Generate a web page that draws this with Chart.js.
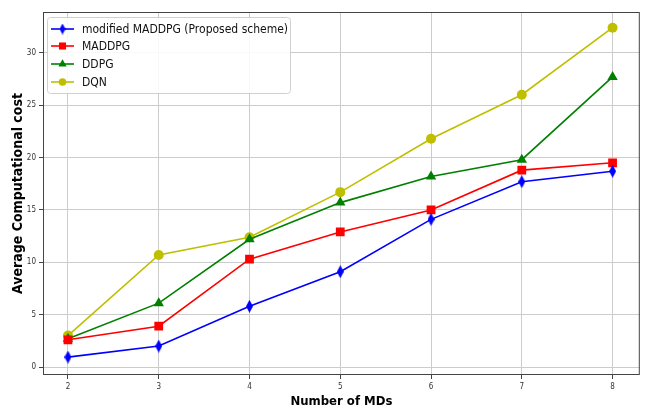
<!DOCTYPE html>
<html><head><meta charset="utf-8">
<script src="https://cdn.jsdelivr.net/npm/chart.js@4"></script>
<style>html,body{margin:0;padding:0;background:#fff}#wrap{width:646px;height:409px}</style>
</head><body><div id="wrap"><canvas id="c" width="646" height="409"></canvas></div>
<script>
const numMDs = [2, 3, 4, 5, 6, 7, 8];
const modifiedMADDPG = [0.95, 2.0, 5.8, 9.1, 14.1, 17.7, 18.7];
const MADDPG = [2.6, 3.9, 10.3, 12.9, 15.0, 18.8, 19.5];
const DDPG = [2.7, 6.1, 12.2, 15.7, 18.2, 19.8, 27.7];
const DQN = [3.0, 10.7, 12.4, 16.7, 21.8, 26.0, 32.4];
const seriesLabels = ['modified MADDPG (Proposed scheme)', 'MADDPG', 'DDPG', 'DQN'];
const yTicks = [0, 5, 10, 15, 20, 25, 30];

const FAM = '"DejaVu Sans Condensed", "DejaVu Sans"';

function thinDiamond(w, h, color) {
  const c = document.createElement('canvas');
  c.width = w; c.height = h;
  const g = c.getContext('2d');
  g.fillStyle = color;
  g.beginPath();
  g.moveTo(w / 2, 0); g.lineTo(w, h / 2); g.lineTo(w / 2, h); g.lineTo(0, h / 2); g.closePath();
  g.fill();
  return c;
}
const diamond = thinDiamond(7, 13, '#0000ff');
const diamondSmall = thinDiamond(6, 11, '#0000ff');

const toPts = arr => arr.map((v, i) => ({x: numMDs[i], y: v}));
const styles = [
  {color: '#0000ff', pointStyle: diamond, legendStyle: diamondSmall, radius: 6, legendRadius: 5},
  {color: '#ff0000', pointStyle: 'rect', legendStyle: 'rect', radius: 6.2, legendRadius: 5},
  {color: '#008000', pointStyle: 'triangle', legendStyle: 'triangle', radius: 6, legendRadius: 4.8},
  {color: '#bfbf00', pointStyle: 'circle', legendStyle: 'circle', radius: 5, legendRadius: 3.8},
];
const values = [modifiedMADDPG, MADDPG, DDPG, DQN];

const datasets = values.map((v, i) => ({
  label: seriesLabels[i],
  data: toPts(v),
  borderColor: styles[i].color,
  backgroundColor: styles[i].color,
  pointBackgroundColor: styles[i].color,
  pointBorderColor: styles[i].color,
  pointBorderWidth: 0,
  pointStyle: styles[i].pointStyle,
  pointRadius: styles[i].radius,
  borderWidth: 1.6,
  tension: 0,
  fill: false
}));

const frame = {
  id: 'frame',
  afterDraw(chart) {
    const {ctx, chartArea: a} = chart;
    ctx.save();
    ctx.strokeStyle = '#444';
    ctx.lineWidth = 1;
    ctx.strokeRect(a.left + 0.5, a.top + 0.5, a.right - a.left - 1, a.bottom - a.top - 1);
    // legend
    const bx = 47, by = 17, bw = 243, bh = 76;
    ctx.fillStyle = 'rgba(255,255,255,0.85)';
    ctx.strokeStyle = '#d0d0d0';
    ctx.beginPath();
    if (ctx.roundRect) ctx.roundRect(bx + 0.5, by + 0.5, bw, bh, 3); else ctx.rect(bx + 0.5, by + 0.5, bw, bh);
    ctx.fill(); ctx.stroke();
    ctx.font = '12px ' + FAM;
    ctx.textBaseline = 'middle';
    const rows = [29, 46, 64, 82];
    chart.data.datasets.forEach((ds, i) => {
      const y = rows[i];
      ctx.strokeStyle = ds.borderColor;
      ctx.lineWidth = 1.6;
      ctx.beginPath(); ctx.moveTo(51, y); ctx.lineTo(74, y); ctx.stroke();
      ctx.save();
      ctx.fillStyle = ds.pointBackgroundColor;
      ctx.strokeStyle = ds.pointBackgroundColor;
      Chart.helpers.drawPoint(ctx, {pointStyle: styles[i].legendStyle, radius: styles[i].legendRadius, borderWidth: 0}, 62.5, y);
      ctx.restore();
      ctx.fillStyle = '#111';
      ctx.fillText(ds.label, 82, y + 1);
    });
    ctx.restore();
  }
};

new Chart(document.getElementById('c'), {
  type: 'line',
  data: {datasets},
  options: {
    responsive: false,
    animation: false,
    layout: {padding: {top: 12, right: 6, left: 0, bottom: 0}},
    plugins: {legend: {display: false}, tooltip: {enabled: false}},
    scales: {
      x: {
        type: 'linear', min: 1.725, max: 8.3,
        afterBuildTicks: s => { s.ticks = numMDs.map(v => ({value: v})); },
        afterFit: s => { s.height = 34; },
        grid: {color: '#cccccc', lineWidth: 1, drawTicks: true, tickLength: 4, tickColor: '#444'},
        border: {display: false},
        ticks: {font: {family: FAM, size: 8}, color: '#333', padding: 3, maxRotation: 0},
        title: {display: true, text: 'Number of MDs', font: {family: FAM, size: 13, weight: 'bold'}, color: '#000', padding: {top: 4, bottom: 0}}
      },
      y: {
        type: 'linear', min: -0.76, max: 33.9,
        afterBuildTicks: s => { s.ticks = yTicks.map(v => ({value: v})); },
        afterFit: s => { s.width = 43; },
        grid: {color: '#cccccc', lineWidth: 1, drawTicks: true, tickLength: 4, tickColor: '#444'},
        border: {display: false},
        ticks: {font: {family: FAM, size: 8}, color: '#333', padding: 3},
        title: {display: true, text: 'Average Computational cost', font: {family: FAM, size: 14, weight: 'bold'}, color: '#000', padding: {top: 10, bottom: 4}}
      }
    }
  },
  plugins: [frame]
});
</script></body></html>
